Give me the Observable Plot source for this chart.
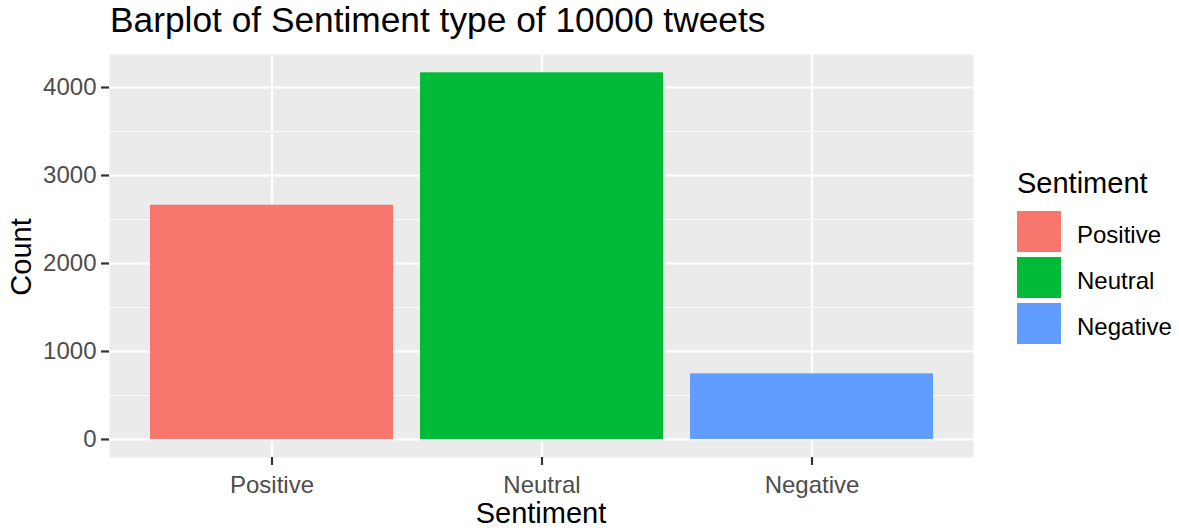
<!DOCTYPE html>
<html>
<head>
<meta charset="utf-8">
<script src="https://cdn.jsdelivr.net/npm/d3@7"></script>
<script src="https://cdn.jsdelivr.net/npm/@observablehq/plot@0.6"></script>
<style>
  html, body { margin: 0; padding: 0; background: #fff; }
  #wrap { position: relative; width: 1179px; height: 532px; font-family: "Liberation Sans", Arial, sans-serif; }
  .abs { position: absolute; white-space: nowrap; color: #000; line-height: 1; }
  #title { left: 110px; top: 2px; font-size: 35.3px; }
  #xtitle { left: 541px; top: 499px; font-size: 29px; transform: translateX(-50%); }
  #ytitle { left: 21px; top: 256.5px; font-size: 29px; transform: translate(-50%, -50%) rotate(-90deg); }
  #legtitle { left: 1017px; top: 169px; font-size: 29px; }
  .key { position: absolute; left: 1017px; width: 44px; height: 41px; }
  .klab { position: absolute; left: 1077px; font-size: 24px; color: #000; line-height: 1; white-space: nowrap; }
</style>
</head>
<body>
<div id="wrap">
  <div id="chart"></div>
  <div id="title" class="abs">Barplot of Sentiment type of 10000 tweets</div>
  <div id="xtitle" class="abs">Sentiment</div>
  <div id="ytitle" class="abs">Count</div>
  <div id="legtitle" class="abs">Sentiment</div>
  <div id="legend"></div>
</div>
<script>
const categories = ["Positive", "Neutral", "Negative"];
const counts = [2662, 4167, 746];
const colors = ["#F8766D", "#00BA38", "#619CFF"];
const yTicks = [0, 1000, 2000, 3000, 4000];
const yMinor = [500, 1500, 2500, 3500];

const data = categories.map((c, i) => ({sentiment: c, count: counts[i]}));

const chart = Plot.plot({
  width: 1179,
  height: 532,
  marginLeft: 109,
  marginRight: 206,
  marginTop: 54,
  marginBottom: 75,
  style: {fontFamily: "'Liberation Sans', Arial, sans-serif", fontSize: "24px", background: "transparent"},
  x: {domain: categories, paddingInner: 0.1, paddingOuter: 0.15, label: null},
  y: {domain: [-205, 4375], label: null},
  color: {domain: categories, range: colors},
  marks: [
    Plot.frame({fill: "#EBEBEB", stroke: null}),
    Plot.ruleY(yMinor, {stroke: "#FFFFFF", strokeWidth: 1.1, strokeOpacity: 1}),
    Plot.ruleY(yTicks, {stroke: "#FFFFFF", strokeWidth: 2.2, strokeOpacity: 1}),
    Plot.ruleX(categories, {x: d => d, stroke: "#FFFFFF", strokeWidth: 2.2, strokeOpacity: 1}),
    Plot.barY(data, {x: "sentiment", y: "count", fill: "sentiment", inset: 0}),
    Plot.axisY({ticks: yTicks, tickFormat: d3.format("d"), tickSize: 8, tickPadding: 5, strokeWidth: 2.2, stroke: "#333333", strokeOpacity: 1, fill: "#4D4D4D", fontSize: 24, label: null}),
    Plot.axisX({tickSize: 8, tickPadding: 10, strokeWidth: 2.2, stroke: "#333333", strokeOpacity: 1, fill: "#4D4D4D", fontSize: 24, label: null})
  ]
});
document.getElementById("chart").appendChild(chart);

const legend = document.getElementById("legend");
categories.forEach((c, i) => {
  const top = 211 + i * 46;
  const k = document.createElement("div");
  k.className = "key";
  k.style.top = top + "px";
  k.style.background = colors[i];
  legend.appendChild(k);
  const l = document.createElement("div");
  l.className = "klab";
  l.textContent = c;
  l.style.top = (top + 12) + "px";
  legend.appendChild(l);
});
</script>
</body>
</html>
